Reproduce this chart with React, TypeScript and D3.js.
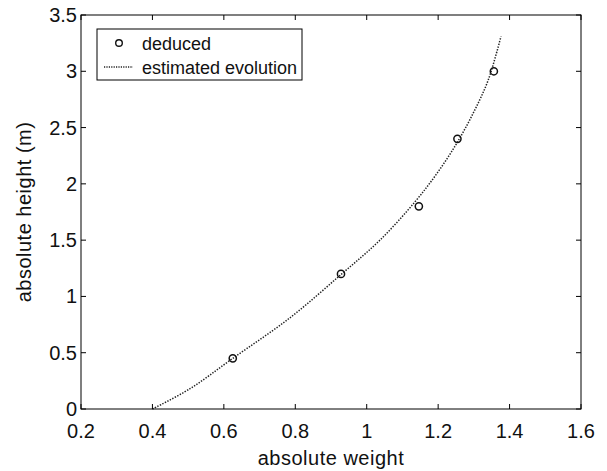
import React from "react";
import * as d3 from "d3";

const deducedX = [0.625, 0.928, 1.146, 1.254, 1.356];
const deducedY = [0.45, 1.2, 1.8, 2.4, 3.0];

const curveX = [0.4, 0.505, 0.625, 0.785, 0.93, 1.037, 1.135, 1.196, 1.252, 1.3, 1.34, 1.376];
const curveY = [0.0, 0.18, 0.45, 0.81, 1.2, 1.5, 1.84, 2.09, 2.36, 2.64, 2.92, 3.31];

const xTicks = [0.2, 0.4, 0.6, 0.8, 1, 1.2, 1.4, 1.6];
const yTicks = [0, 0.5, 1, 1.5, 2, 2.5, 3, 3.5];

const W = 607;
const H = 471;
const m = { left: 81, right: 581, top: 15, bottom: 409 };
const FONT = "'Liberation Sans', Arial, Helvetica, sans-serif";

export default function App() {
  const x = d3.scaleLinear().domain([0.2, 1.6]).range([m.left, m.right]);
  const y = d3.scaleLinear().domain([0, 3.5]).range([m.bottom, m.top]);
  const line = d3
    .line<number>()
    .x((_, i) => x(curveX[i]))
    .y((_, i) => y(curveY[i]))
    .curve(d3.curveCatmullRom.alpha(0.5));
  const tl = 5;
  return (
    <svg
      width={W}
      height={H}
      style={{ position: "absolute", left: 0, top: 0, background: "#fff" }}
      fontFamily={FONT}
    >
      <rect x={0} y={0} width={W} height={H} fill="#fff" />
      {/* curve */}
      <path
        d={line(curveX) || ""}
        fill="none"
        stroke="#222"
        strokeWidth={1.5}
        strokeDasharray="1.4,1.4"
      />
      {/* markers */}
      {deducedX.map((v, i) => (
        <circle key={i} cx={x(v)} cy={y(deducedY[i])} r={3.6} fill="none" stroke="#111" strokeWidth={1.5} />
      ))}
      {/* axes box */}
      <rect
        x={m.left}
        y={m.top}
        width={m.right - m.left}
        height={m.bottom - m.top}
        fill="none"
        stroke="#000"
        strokeWidth={1}
      />
      {xTicks.map((t) => (
        <g key={"x" + t}>
          <line x1={x(t)} x2={x(t)} y1={m.bottom} y2={m.bottom - tl} stroke="#000" />
          <line x1={x(t)} x2={x(t)} y1={m.top} y2={m.top + tl} stroke="#000" />
          <text x={x(t)} y={m.bottom + 29} fontSize={20} textAnchor="middle" fill="#111">
            {String(t)}
          </text>
        </g>
      ))}
      {yTicks.map((t) => (
        <g key={"y" + t}>
          <line x1={m.left} x2={m.left + tl} y1={y(t)} y2={y(t)} stroke="#000" />
          <line x1={m.right} x2={m.right - tl} y1={y(t)} y2={y(t)} stroke="#000" />
          <text x={m.left - 4} y={y(t) + 7} fontSize={20} textAnchor="end" fill="#111">
            {String(t)}
          </text>
        </g>
      ))}
      <text
        x={(m.left + m.right) / 2}
        y={465}
        fontSize={20}
        letterSpacing={0.5}
        textAnchor="middle"
        fill="#111"
      >
        absolute weight
      </text>
      <text
        transform={`translate(31,${(m.top + m.bottom) / 2}) rotate(-90)`}
        fontSize={20}
        letterSpacing={0.5}
        textAnchor="middle"
        fill="#111"
      >
        absolute height (m)
      </text>
      {/* legend */}
      <rect x={97} y={29} width={205} height={51} fill="#fff" stroke="#000" strokeWidth={1} />
      <circle cx={119} cy={43} r={3.3} fill="none" stroke="#111" strokeWidth={1.4} />
      <text x={142} y={49.5} fontSize={18} fill="#111">deduced</text>
      <line x1={104} x2={133} y1={67} y2={67} stroke="#222" strokeWidth={1.3} strokeDasharray="1.2,1.2" />
      <text x={142} y={74} fontSize={18} fill="#111">estimated evolution</text>
    </svg>
  );
}
